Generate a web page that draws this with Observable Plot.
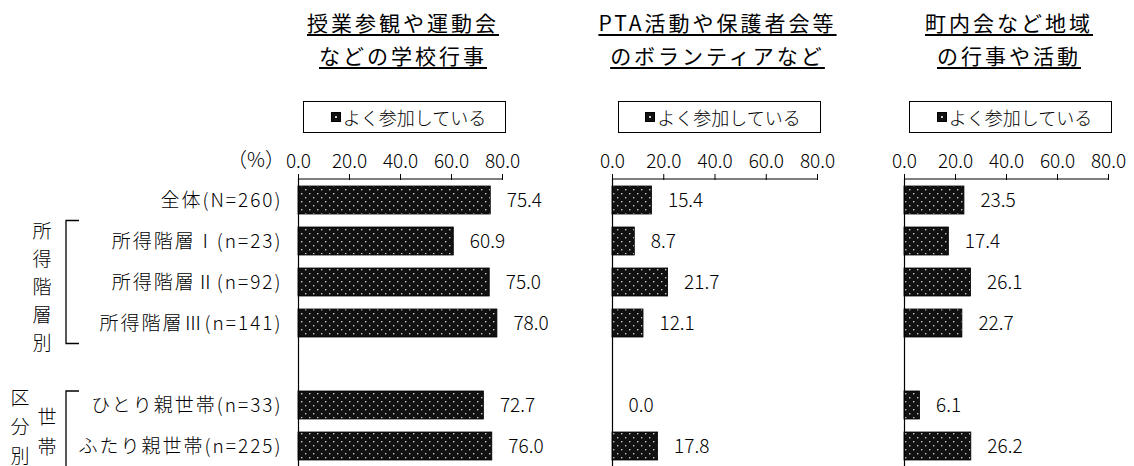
<!DOCTYPE html>
<html><head><meta charset="utf-8">
<script src="https://cdn.jsdelivr.net/npm/d3@7"></script>
<script src="https://cdn.jsdelivr.net/npm/@observablehq/plot@0.6"></script>
<style>
html,body{margin:0;padding:0;background:#fff;}
#root{position:relative;width:1134px;height:466px;overflow:hidden;font-family:"Noto Sans CJK JP","Noto Sans",sans-serif;font-weight:300;color:#000;}
.title{position:absolute;top:6px;width:320px;font-size:21px;line-height:33px;letter-spacing:3px;text-align:center;white-space:nowrap;font-weight:400;}
.title span{text-decoration:underline;text-decoration-thickness:2px;text-underline-offset:3px;}
.legend{position:absolute;top:101px;width:193px;height:30px;border:1px solid #000;display:flex;align-items:center;justify-content:center;font-size:18px;padding-left:8px;box-sizing:content-box;}
.legend svg{margin-right:2px;}
.chart{position:absolute;top:140px;}
.chart svg{overflow:visible;font-weight:300;}
#c0 [aria-label="y-axis tick label"] text{letter-spacing:2px;}
</style>
</head><body>
<div id="root">
<svg width="0" height="0" style="position:absolute">
  <defs>
    <pattern id="dots" width="8" height="8" patternUnits="userSpaceOnUse">
      <rect width="8" height="8" fill="#111"/>
      <rect x="1" y="1" width="1.4" height="1.4" fill="#c8c8c8"/>
      <rect x="5" y="5" width="1.4" height="1.4" fill="#c8c8c8"/>
    </pattern>
  </defs>
</svg>
</div>
<script>
// ---- data ----
const rowLabels = ["全体(N=260)", "所得階層Ⅰ(n=23)", "所得階層Ⅱ(n=92)", "所得階層Ⅲ(n=141)", "ひとり親世帯(n=33)", "ふたり親世帯(n=225)"];
const spacer = " ";
const yDomain = [rowLabels[0], rowLabels[1], rowLabels[2], rowLabels[3], spacer, rowLabels[4], rowLabels[5]];
const schoolEvents = [75.4, 60.9, 75.0, 78.0, 72.7, 76.0];
const ptaVolunteer = [15.4, 8.7, 21.7, 12.1, 0.0, 17.8];
const communityEvents = [23.5, 17.4, 26.1, 22.7, 6.1, 26.2];
const panelTitles = [["授業参観や運動会", "などの学校行事"], ["PTA活動や保護者会等", "のボランティアなど"], ["町内会など地域", "の行事や活動"]];
const legendLabel = "よく参加している";
const xTicks = [0, 20, 40, 60, 80];
const unitLabel = "（%）";
const groups = [
  {outer: "所得階層別", inner: null, from: 1, to: 3},
  {outer: "区分別", inner: "世帯", from: 4, to: 5}
];

// ---- layout ----
const panels = [
  {values: schoolEvents, left: 0, width: 560, marginLeft: 298, marginRight: 58, showY: true},
  {values: ptaVolunteer, left: 592, width: 285, marginLeft: 20, marginRight: 60, showY: false},
  {values: communityEvents, left: 884, width: 250, marginLeft: 20, marginRight: 26, showY: false}
];
const H = 326, MT = 39;
const root = document.getElementById("root");

panels.forEach((p, k) => {
  const data = rowLabels.map((label, i) => ({label, value: p.values[i]}));
  const chart = Plot.plot({
    width: p.width, height: H, marginTop: MT, marginBottom: 0,
    marginLeft: p.marginLeft, marginRight: p.marginRight,
    style: {fontFamily: '"Noto Sans CJK JP","Noto Sans",sans-serif', fontSize: "19px", color: "#000", background: "transparent", overflow: "visible"},
    x: {domain: [0, 80], ticks: xTicks, tickFormat: d => d.toFixed(1), axis: "top", tickSize: 6, tickPadding: 6, label: null},
    y: {domain: yDomain, paddingInner: 0.32, paddingOuter: 0.16, axis: p.showY ? "left" : null, tickSize: 0, tickPadding: 16, label: null},
    marks: [
      Plot.barX(data, {x: "value", y: "label", fill: "url(#dots)", stroke: "#000", strokeWidth: 0.8}),
      Plot.text(data, {x: "value", y: "label", text: d => d.value.toFixed(1), dx: 16, textAnchor: "start", fontSize: 19, fill: "#000"}),
      Plot.ruleX([0], {stroke: "#000", strokeWidth: 1.2})
    ]
  });
  const wrap = document.createElement("div");
  wrap.className = "chart"; wrap.id = "c" + k;
  wrap.style.left = p.left + "px";
  wrap.appendChild(chart);
  root.appendChild(wrap);

  const sx = chart.scale("x");
  const svg = d3.select(chart);
  const x0 = sx.apply(0), x80 = sx.apply(80);
  svg.append("line").attr("x1", x0).attr("x2", x80).attr("y1", MT).attr("y2", MT)
     .attr("stroke", "#000").attr("stroke-width", 1.2);

  // title
  const cx = p.left + (x0 + x80) / 2;
  const t = document.createElement("div");
  t.className = "title";
  t.style.left = (cx - 160 + 3) + "px";
  t.innerHTML = panelTitles[k].map(s => `<span>${s}</span>`).join("<br>");
  root.appendChild(t);

  // legend
  const lg = document.createElement("div");
  lg.className = "legend";
  lg.style.left = (cx + 4 - 101) + "px";
  lg.innerHTML = `<svg width="10" height="10"><rect x="0.5" y="0.5" width="9" height="9" fill="#111" stroke="#000"/><rect x="4" y="4" width="2" height="2" fill="#ccc"/></svg><span>${legendLabel}</span>`;
  root.appendChild(lg);

  if (p.showY) {
    const sy = chart.scale("y");
    const step = sy.step, bw = sy.bandwidth, gap = step - bw;
    // unit label
    svg.append("text").attr("x", x0 - 13).attr("y", MT - 21).attr("text-anchor", "end")
       .attr("dominant-baseline", "central").attr("font-size", 20).attr("fill", "#000").text(unitLabel);
    groups.forEach((g, gi) => {
      const top = sy.apply(rowLabels[g.from]) - (gi === 0 ? gap / 2 : 0);
      const bot = sy.apply(rowLabels[g.to]) + bw + gap / 2 + (gi === 0 ? 0 : 6);
      const bx = 66;
      svg.append("path").attr("d", `M${bx + 13},${top}H${bx}V${bot}H${bx + 13}`)
         .attr("fill", "none").attr("stroke", "#000").attr("stroke-width", 1.3);
      const mid = (top + bot) / 2;
      const drawVert = (str, x, sp, c) => {
        [...str].forEach((ch, j) => {
          svg.append("text").attr("x", x).attr("y", c + (j - (str.length - 1) / 2) * sp)
             .attr("text-anchor", "middle").attr("dominant-baseline", "central")
             .attr("font-size", 19).attr("fill", "#000").text(ch);
        });
      };
      if (g.inner) {
        drawVert(g.outer, 20, 29, mid - 6);
        drawVert(g.inner, 47, 30, mid - 1);
      } else {
        drawVert(g.outer, 42, 28, mid + 3);
      }
    });
  }
});
</script>
</body></html>
